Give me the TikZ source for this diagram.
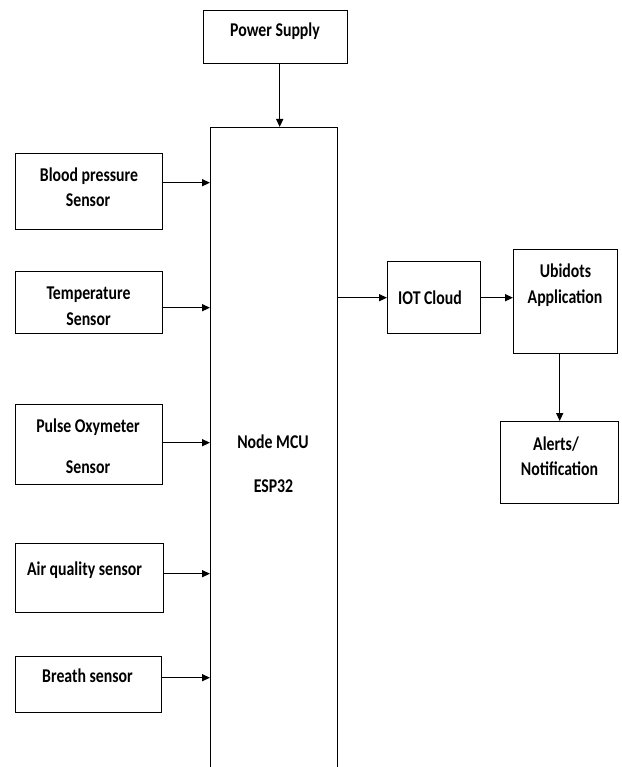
\documentclass[tikz,border=0pt]{standalone}
\usepackage{fontspec}
\setmainfont{Carlito}[FakeStretch=0.81]
\usetikzlibrary{arrows.meta}
\begin{document}
\begin{tikzpicture}[x=1pt,y=-1pt,
  box/.style={draw, line width=1.4pt, inner sep=0pt, anchor=north west},
  lbl/.style={font=\fontsize{19.5}{25}\selectfont\bfseries, anchor=base, inner sep=0pt},
  arr/.style={-{Triangle[length=8pt,width=7pt]}, line width=1.4pt}]
\useasboundingbox (0,0) rectangle (621,767);
\clip (0,0) rectangle (621,767);
% boxes
\node[box, minimum width=144pt, minimum height=53pt] (ps) at (203,10) {};
\node[box, minimum width=147pt, minimum height=76pt] (bp) at (15,153) {};
\node[box, minimum width=147pt, minimum height=62pt] (temp) at (15,271) {};
\node[box, minimum width=147pt, minimum height=80pt] (pulse) at (15,404) {};
\node[box, minimum width=148pt, minimum height=69pt] (air) at (15,543) {};
\node[box, minimum width=146pt, minimum height=56pt] (breath) at (15,656) {};
\node[box, minimum width=127pt, minimum height=700pt] (mcu) at (210,127) {};
\node[box, minimum width=93pt, minimum height=72pt] (iot) at (387,261) {};
\node[box, minimum width=104pt, minimum height=104pt] (ubi) at (513,249) {};
\node[box, minimum width=118pt, minimum height=82pt] (alert) at (500,421) {};
% texts
\node[lbl] (psT) at (275,37) {Power Supply};
\node[lbl] (bpT1) at (89,182) {Blood pressure};
\node[lbl] (bpT2) at (88,207) {Sensor};
\node[lbl] (tempT1) at (88.5,299) {Temperature};
\node[lbl] (tempT2) at (88.5,325) {Sensor};
\node[lbl] (pulseT1) at (88,432) {Pulse Oxymeter};
\node[lbl] (pulseT2) at (88,473) {Sensor};
\node[lbl] (airT) at (84.5,575) {Air quality sensor};
\node[lbl] (breathT) at (87.5,682) {Breath sensor};
\node[lbl] (mcuT1) at (273,448) {Node MCU};
\node[lbl] (mcuT2) at (273.5,492) {ESP32};
\node[lbl] (iotT) at (430,304) {IOT Cloud};
\node[lbl] (ubiT1) at (565.5,277) {Ubidots};
\node[lbl] (ubiT2) at (565,303) {Application};
\node[lbl] (alertT1) at (556,450) {Alerts/};
\node[lbl] (alertT2) at (559.5,475) {Notification};
% arrows
\draw[arr] ([xshift=4pt]ps.south) -- ([xshift=4pt]ps.south |- mcu.north);
\draw[arr] ([yshift=9pt]bp.east) -- ([yshift=9pt]bp.east -| mcu.west);
\draw[arr] ([yshift=-5pt]temp.east) -- ([yshift=-5pt]temp.east -| mcu.west);
\draw[arr] ([yshift=2pt]pulse.east) -- ([yshift=2pt]pulse.east -| mcu.west);
\draw[arr] ([yshift=4.5pt]air.east) -- ([yshift=4.5pt]air.east -| mcu.west);
\draw[arr] ([yshift=7pt]breath.east) -- ([yshift=7pt]breath.east -| mcu.west);
\draw[arr] (iot.west -| mcu.east) -- (iot.west);
\draw[arr] (iot.east) -- (iot.east -| ubi.west);
\draw[arr] ([xshift=-6pt]ubi.south) -- ([xshift=-6pt]ubi.south |- alert.north);
\end{tikzpicture}
\end{document}
